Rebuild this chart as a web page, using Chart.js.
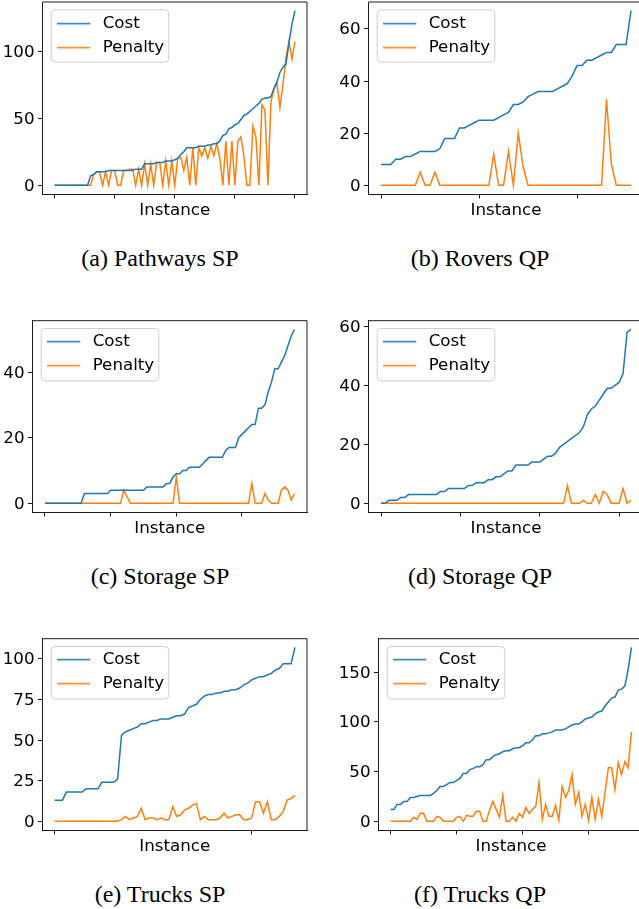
<!DOCTYPE html>
<html>
<head>
<meta charset="utf-8">
<script src="https://cdn.jsdelivr.net/npm/chart.js@4.4.1/dist/chart.umd.min.js"></script>
<style>
html, body { margin:0; padding:0; background:#fff; }
body { width:639px; height:909px; overflow:hidden; position:relative; }
canvas { position:absolute; }
.cap { position:absolute; width:320px; text-align:center; font-family:"Liberation Serif","Times New Roman",serif; font-size:24px; line-height:24px; color:#000; white-space:nowrap; }
</style>
</head>
<body>
<canvas id="ca"></canvas>
<canvas id="cb"></canvas>
<canvas id="cc"></canvas>
<canvas id="cd"></canvas>
<canvas id="ce"></canvas>
<canvas id="cf"></canvas>
<div class="cap" style="left:0px;top:246px">(a) Pathways SP</div>
<div class="cap" style="left:320px;top:246px">(b) Rovers QP</div>
<div class="cap" style="left:0px;top:564px">(c) Storage SP</div>
<div class="cap" style="left:320px;top:564px">(d) Storage QP</div>
<div class="cap" style="left:0px;top:882px">(e) Trucks SP</div>
<div class="cap" style="left:320px;top:882px">(f) Trucks QP</div>
<script>
// ---------------- data ----------------
const seriesNames = ['Cost', 'Penalty'];
const xLabel = 'Instance';

const pathwaysSPCost = [0,0,0,0,0,0,0,0,0,0,0,0,7,8,10,10,10,10,11,11,11,11,11,11,11,11,11,12,12,12,16,16,16,16,17,17,17,18,18,18,19,20,23,25,28,28,28,28,29,29,29,30,30,31,31,33,37,38,42,43,45,46,49,52,53,55,57,59,61,64,65,65,66,72,77,84,88,90,106,120,130];
const pathwaysSPPenalty = [0,0,0,0,0,0,0,0,0,0,0,0,0,8,10,10,0,10,0,11,11,0,0,11,11,12,12,0,12,0,16,0,16,0,17,17,0,18,0,18,0,20,21,11,21,0,28,0,28,22,28,20,29,22,31,20,0,33,0,33,0,33,36,22,0,0,44,36,0,60,56,0,62,72,76,58,75,95,107,94,107];

const roversQPCost = [8,8,8,10,10,11,11,12,13,13,13,13,14,18,18,18,22,22,23,24,25,25,25,25,26,27,28,31,31,32,34,35,36,36,36,36,37,38,39,42,46,46,48,48,49,50,51,51,54,54,54,67];
const roversQPPenalty = [0,0,0,0,0,0,0,0,5,0,0,5,0,0,0,0,0,0,0,0,0,0,0,12,0,0,13,0,20,7,0,0,0,0,0,0,0,0,0,0,0,0,0,0,0,0,33,8,0,0,0,0];

const storageSPCost = [0,0,0,0,0,0,0,0,0,0,0,0,3,3,3,3,3,3,3,3,4,4,4,4,4,4,4,4,4,4,4,5,5,5,5,5,5,6,6,8,9,9,10,10,11,11,11,11,12,13,14,14,14,14,14,16,17,17,17,20,21,22,23,24,24,29,29,30,34,37,41,41,43,45,48,51,53];
const storageSPPenalty = [0,0,0,0,0,0,0,0,0,0,0,0,0,0,0,0,0,0,0,0,0,0,0,0,4,2,0,0,0,0,0,0,0,0,0,0,0,0,0,0,8,0,0,0,0,0,0,0,0,0,0,0,0,0,0,0,0,0,0,0,0,0,0,6,0,0,0,3,1,0,0,0,4,5,4,1,3];

const storageQPCost = [0,0,1,1,1,2,2,3,3,3,3,3,3,3,3,4,4,5,5,5,5,5,6,6,7,7,7,8,8,9,9,10,11,11,13,13,13,13,14,14,14,15,16,16,17,19,20,21,22,23,24,26,30,32,33,35,37,39,39,40,41,44,58,59];
const storageQPPenalty = [0,0,0,0,0,0,0,0,0,0,0,0,0,0,0,0,0,0,0,0,0,0,0,0,0,0,0,0,0,0,0,0,0,0,0,0,0,0,0,0,0,0,0,0,0,0,0,6,0,0,0,1,0,0,3,0,4,3,0,0,0,5,0,1];

const trucksSPCost = [13,13,13,18,18,18,18,18,20,20,20,20,24,24,24,24,26,53,55,56,57,58,60,60,61,62,62,63,63,63,64,65,65,66,70,71,72,75,77,78,78,79,79,80,80,81,81,82,84,85,87,88,89,89,90,91,93,94,97,97,97,107];
const trucksSPPenalty = [0,0,0,0,0,0,0,0,0,0,0,0,0,0,0,0,0,1,3,1,2,3,8,1,2,2,1,2,1,1,9,3,4,7,8,10,11,1,3,1,1,1,2,5,2,3,4,4,1,1,2,12,12,5,12,1,1,3,6,13,14,16];

const trucksQPCost = [12,12,17,17,20,20,24,24,25,26,26,26,26,28,31,35,35,37,39,39,41,43,48,48,52,53,55,55,57,62,62,65,67,68,70,71,71,73,74,74,76,79,79,82,86,86,88,88,89,90,92,92,92,93,95,97,98,98,100,103,104,105,108,110,111,116,120,124,125,132,133,136,153,175];
const trucksQPPenalty = [0,0,0,0,0,0,0,4,2,8,8,0,0,0,5,4,0,0,0,0,4,5,0,6,5,5,10,10,0,0,11,20,12,4,26,0,0,4,0,8,4,14,8,12,15,39,2,17,5,5,16,1,35,24,31,47,17,29,5,17,1,24,2,22,5,29,54,54,32,59,47,60,54,90];

// tick values
const xTicksA = [0,20,40,60,80];   const yTicksA = [0,50,100];
const xTicksB = [0,20,40];         const yTicksB = [0,20,40,60];
const xTicksC = [0,20,40,60];      const yTicksC = [0,20,40];
const xTicksD = [0,20,40,60];      const yTicksD = [0,20,40,60];
const xTicksE = [0,50];            const yTicksE = [0,25,50,75,100];
const xTicksF = [0,20,40,60];      const yTicksF = [0,50,100,150];

// ---------------- styling / layout ----------------
const COST_COLOR = '#1f77b4';
const PEN_COLOR = '#ff7f0e';
const FONT = 'DejaVu Sans';
const FS = 16.7;

function lineSample(color) {
  const c = document.createElement('canvas');
  c.width = 37; c.height = 5;
  const g = c.getContext('2d');
  g.strokeStyle = color; g.lineWidth = 1.5;
  g.beginPath(); g.moveTo(0, 2.5); g.lineTo(33, 2.5); g.stroke();
  return c;
}

const framePlugin = {
  id: 'mplFrame',
  afterLayout(chart) {
    const lg = chart.legend;
    if (lg) { lg.left += 7.5; lg.top += 8; }
  },
  beforeDraw(chart) {
    const a = chart.chartArea, ctx = chart.ctx;
    const x = a.left + 8.2, y = a.top + 7.3, w = 117.6, h = 52.4;
    ctx.save();
    ctx.beginPath();
    ctx.roundRect(x + 0.5, y + 0.5, w, h, 4);
    ctx.fillStyle = 'rgba(255,255,255,0.8)';
    ctx.fill();
    ctx.strokeStyle = '#cccccc';
    ctx.lineWidth = 1;
    ctx.stroke();
    ctx.restore();
  },
  afterDatasetsDraw(chart) {
    const a = chart.chartArea, ctx = chart.ctx;
    ctx.save();
    ctx.strokeStyle = '#000';
    ctx.lineWidth = 0.9;
    ctx.beginPath();
    ctx.moveTo(a.left, a.top); ctx.lineTo(a.right, a.top); ctx.lineTo(a.right, a.bottom);
    ctx.stroke();
    ctx.restore();
  }
};

const panels = [
  {id:'ca', cost:pathwaysSPCost, penalty:pathwaysSPPenalty, xTicks:xTicksA, yTicks:yTicksA, cx:0,   cy:0,   cw:319, ch:230, L:42.5,  R:307,   T:2,     B:194, titleY:211},
  {id:'cb', cost:roversQPCost,   penalty:roversQPPenalty,   xTicks:xTicksB, yTicks:yTicksB, cx:320, cy:0,   cw:330, ch:230, L:368.5, R:643.5, T:2,     B:194, titleY:211},
  {id:'cc', cost:storageSPCost,  penalty:storageSPPenalty,  xTicks:xTicksC, yTicks:yTicksC, cx:0,   cy:318, cw:319, ch:230, L:32.5,  R:307,   T:320.7, B:512, titleY:529},
  {id:'cd', cost:storageQPCost,  penalty:storageQPPenalty,  xTicks:xTicksD, yTicks:yTicksD, cx:320, cy:318, cw:330, ch:230, L:368.5, R:643.5, T:320.7, B:512, titleY:529},
  {id:'ce', cost:trucksSPCost,   penalty:trucksSPPenalty,   xTicks:xTicksE, yTicks:yTicksE, cx:0,   cy:636, cw:319, ch:230, L:42.5,  R:307,   T:638.7, B:830, titleY:847},
  {id:'cf', cost:trucksQPCost,   penalty:trucksQPPenalty,   xTicks:xTicksF, yTicks:yTicksF, cx:320, cy:636, cw:330, ch:230, L:378.5, R:643.5, T:638.7, B:830, titleY:847}
];

function makeChart(p) {
  const cv = document.getElementById(p.id);
  cv.width = p.cw; cv.height = p.ch;
  cv.style.left = p.cx + 'px'; cv.style.top = p.cy + 'px';
  const n = p.cost.length, xr = n - 1;
  const all = p.cost.concat(p.penalty);
  const yMin = Math.min(...all), yMax = Math.max(...all), yr = yMax - yMin;
  const lineH = FS * 1.2;
  const xH = (p.titleY + lineH / 2) - p.B;
  const gridOpts = {display:true, drawOnChartArea:false, drawTicks:true, tickLength:4.5, tickWidth:0.9, tickColor:'#000', color:'#000', lineWidth:0.9};
  const borderOpts = {display:true, color:'#000', width:0.9};
  new Chart(cv, {
    type: 'line',
    data: {
      datasets: [
        {label:seriesNames[0], data:p.cost.map((v,i)=>({x:i,y:v})), borderColor:COST_COLOR, backgroundColor:COST_COLOR,
         borderWidth:1.5, pointRadius:0, pointHoverRadius:0, pointStyle:lineSample(COST_COLOR), tension:0, fill:false},
        {label:seriesNames[1], data:p.penalty.map((v,i)=>({x:i,y:v})), borderColor:PEN_COLOR, backgroundColor:PEN_COLOR,
         borderWidth:1.5, pointRadius:0, pointHoverRadius:0, pointStyle:lineSample(PEN_COLOR), tension:0, fill:false}
      ]
    },
    options: {
      responsive:false, animation:false, devicePixelRatio:1, events:[],
      layout:{autoPadding:false, padding:{left:0, top:p.T-p.cy, right:p.cx+p.cw-p.R, bottom:p.ch-(p.B-p.cy)-xH}},
      scales: {
        x: {
          type:'linear', position:'bottom', min:-0.05*xr, max:1.05*xr,
          afterBuildTicks: s => { s.ticks = p.xTicks.map(v => ({value:v})); },
          afterFit: s => { s.height = xH; s.paddingLeft = 0; s.paddingRight = 0; },
          ticks:{display:true, callback:() => '', autoSkip:false, maxRotation:0, padding:0},
          grid:gridOpts, border:borderOpts,
          title:{display:true, text:xLabel, color:'#000', font:{family:FONT, size:FS}, padding:0}
        },
        y: {
          type:'linear', position:'left', min:yMin-0.05*yr, max:yMax+0.05*yr,
          afterBuildTicks: s => { s.ticks = p.yTicks.map(v => ({value:v})); },
          afterFit: s => { s.width = p.L - p.cx; s.paddingTop = 0; s.paddingBottom = 0; },
          ticks:{color:'#000', font:{family:FONT, size:FS}, padding:3.5, labelOffset:1.2, autoSkip:false, callback:v => String(v)},
          grid:gridOpts, border:borderOpts
        }
      },
      plugins: {
        legend:{display:true, position:'chartArea', align:'start',
          labels:{usePointStyle:true, pointStyleWidth:37, color:'#000', font:{family:FONT, size:FS}, padding:7.3}},
        tooltip:{enabled:false}
      }
    },
    plugins:[framePlugin]
  });
}

panels.forEach(makeChart);
</script>
</body>
</html>
